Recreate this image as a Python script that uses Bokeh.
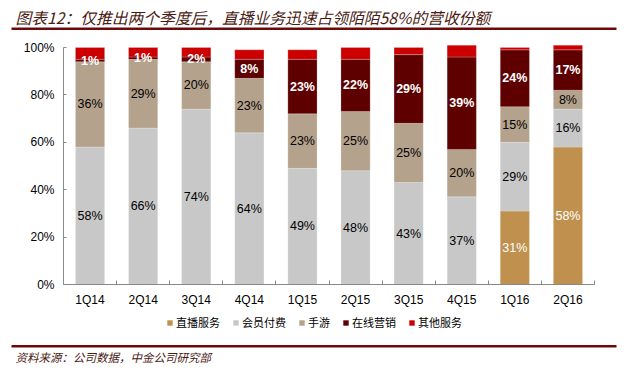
from bokeh.plotting import figure
from bokeh.models import (ColumnDataSource, FixedTicker, PrintfTickFormatter, Range1d,
                          Label, BoxAnnotation)
from bokeh.core.properties import value
from bokeh.embed import file_html
from bokeh.resources import INLINE

# ---- data ----
quarters = ["1Q14", "2Q14", "3Q14", "4Q14", "1Q15", "2Q15", "3Q15", "4Q15", "1Q16", "2Q16"]
live = [0, 0, 0, 0, 0, 0, 0, 0, 31, 58]          # 直播服务
member = [58, 66, 74, 64, 49, 48, 43, 37, 29, 16]  # 会员付费
games = [36, 29, 20, 23, 23, 25, 25, 20, 15, 8]    # 手游
marketing = [1, 1, 2, 8, 23, 22, 29, 39, 24, 17]   # 在线营销
other = [5, 4, 4, 4, 4, 5, 3, 5, 1, 2]             # 其他服务
series_names = ["直播服务", "会员付费", "手游", "在线营销", "其他服务"]
y_ticks = [0, 20, 40, 60, 80, 100]
title_text = "图表12：仅推出两个季度后，直播业务迅速占领陌陌58%的营收份额"
source_text = "资料来源：公司数据，中金公司研究部"

# ---- style / layout ----
colors = ["#C0914E", "#C8C8C8", "#B4A28C", "#5E0000", "#CC0000"]
label_colors = ["white", "black", "black", "white"]
label_styles = ["normal", "normal", "normal", "bold"]
axis_gray = "#888888"
brand = "#6B0A0A"
title_color = "#4A1A14"

W, H = 636, 375
# pixel positions of plotting area inside the canvas
PX0, PX1 = 63, 594      # x of category 0 edge and last edge
PY0, PY100 = 284, 47    # y (from top) of 0% and 100%

n = len(quarters)
ux = (PX1 - PX0) / n
uy = (PY0 - PY100) / 100.0
x_range = Range1d(-PX0 / ux, n + (W - PX1) / ux)
y_range = Range1d(-(H - PY0) / uy, 100 + PY100 / uy)

series = [live, member, games, marketing, other]
keys = ["s%d" % i for i in range(len(series))]
xs = [i + 0.5 for i in range(n)]
data = {"x": xs}
for k, s in zip(keys, series):
    data[k] = s
src = ColumnDataSource(data)

p = figure(width=W, height=H, output_backend="svg", toolbar_location=None,
           x_range=x_range, y_range=y_range,
           min_border=0, min_border_left=0, min_border_right=0,
           min_border_top=0, min_border_bottom=0)
p.outline_line_color = None
p.xgrid.visible = False
p.ygrid.visible = False
p.background_fill_color = "white"
p.border_fill_color = "white"

p.vbar_stack(keys, x="x", width=0.55, source=src, color=colors,
             line_color="white", line_width=0.6, line_alpha=0.35,
             legend_label=series_names)

# labels for first four series at segment centers
cum = [0] * n
for si in range(4):
    s = series[si]
    lx, ly, lt = [], [], []
    for i, v in enumerate(s):
        if v > 0:
            lx.append(xs[i])
            ly.append(cum[i] + v / 2.0)
            lt.append("%d%%" % v)
        cum[i] += v
    ls = ColumnDataSource(dict(x=lx, y=ly, t=lt))
    p.text(x="x", y="y", text="t", source=ls, text_align="center", text_baseline="middle",
           text_font=value("Liberation Sans"), text_font_size="12.5px",
           text_color=label_colors[si], text_font_style=label_styles[si])

# axes (fixed at the data origin)
xa = p.xaxis[0]
xa.fixed_location = 0
xa.bounds = (0, n)
xa.ticker = FixedTicker(ticks=xs, minor_ticks=list(range(n + 1)))
xa.major_label_overrides = {x: q for x, q in zip(xs, quarters)}
xa.major_tick_in = 0
xa.major_tick_out = 0
xa.minor_tick_in = 4
xa.minor_tick_out = 0
xa.minor_tick_line_color = axis_gray
xa.axis_line_color = axis_gray
xa.major_label_standoff = 8
xa.major_label_text_font = "Liberation Sans"
xa.major_label_text_font_size = "12px"
xa.major_label_text_color = "black"

ya = p.yaxis[0]
ya.fixed_location = 0
ya.bounds = (0, 100)
ya.ticker = FixedTicker(ticks=y_ticks)
ya.formatter = PrintfTickFormatter(format="%d%%")
ya.major_tick_in = 3
ya.major_tick_out = 0
ya.minor_tick_line_color = None
ya.major_tick_line_color = axis_gray
ya.axis_line_color = axis_gray
ya.major_label_standoff = 9
ya.major_label_text_font = "Liberation Sans"
ya.major_label_text_font_size = "12px"
ya.major_label_text_color = "black"

# legend
lg = p.legend[0]
lg.orientation = "horizontal"
lg.location = (166, H - 330)
lg.glyph_width = 7
lg.glyph_height = 7
lg.label_height = 12
lg.label_standoff = 3
lg.spacing = 12
lg.padding = 0
lg.margin = 0
lg.border_line_color = None
lg.background_fill_alpha = 0
lg.label_text_font = "Noto Sans CJK SC"
lg.label_text_font_size = "11px"
lg.label_text_color = "black"

# header / footer (screen units: frame == whole canvas, origin bottom-left)
p.add_layout(Label(x=15, y=H - 17, x_units="screen", y_units="screen",
                   text=title_text, text_font="Noto Sans CJK SC", text_font_size="15.75px",
                   text_font_style="italic", text_color=title_color, text_baseline="middle"))
p.add_layout(BoxAnnotation(left=11, right=616, top=H - 27, bottom=H - 29.5,
                           left_units="screen", right_units="screen",
                           top_units="screen", bottom_units="screen",
                           fill_color=brand, fill_alpha=1, line_color=None))
p.add_layout(BoxAnnotation(left=11, right=616, top=H - 344.5, bottom=H - 347,
                           left_units="screen", right_units="screen",
                           top_units="screen", bottom_units="screen",
                           fill_color=brand, fill_alpha=1, line_color=None))
p.add_layout(Label(x=15, y=H - 356, x_units="screen", y_units="screen",
                   text=source_text, text_font="Noto Sans CJK SC", text_font_size="11.5px",
                   text_font_style="italic", text_color=title_color, text_baseline="middle"))

open("out.html", "w").write(file_html(p, INLINE))
